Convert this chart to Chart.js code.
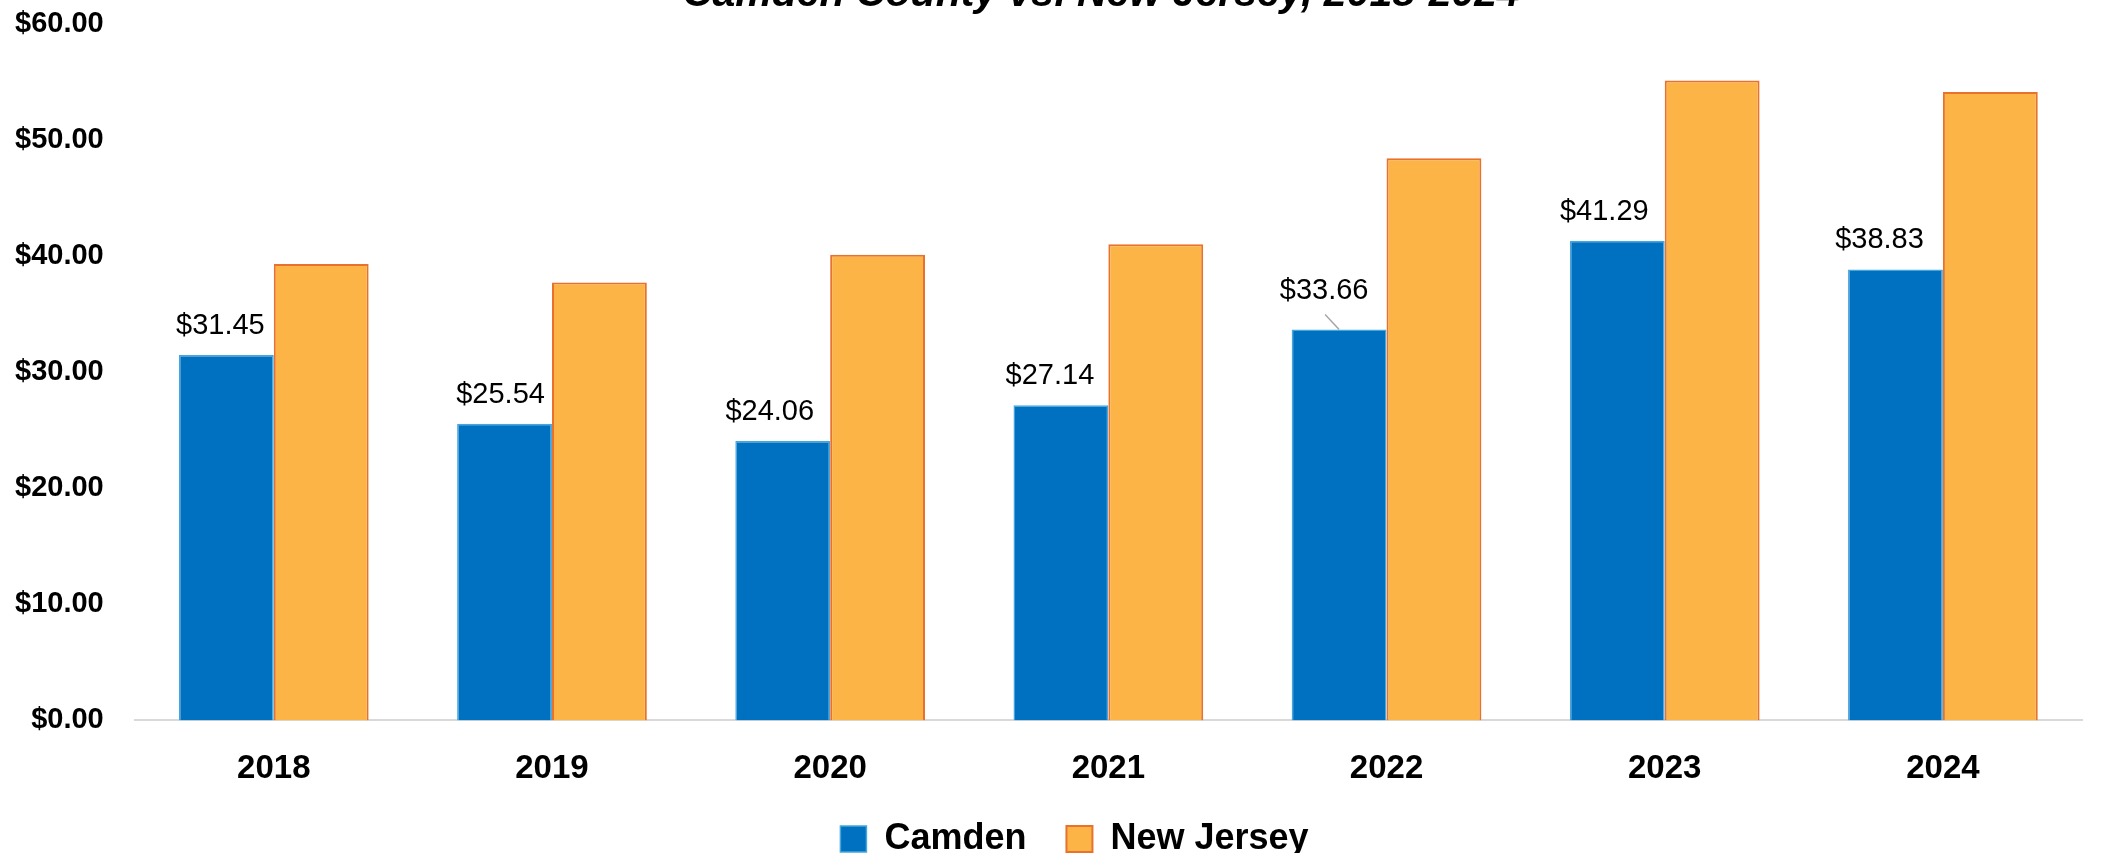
<!DOCTYPE html>
<html>
<head>
<meta charset="utf-8">
<script src="https://cdn.jsdelivr.net/npm/chart.js@4.4.1/dist/chart.umd.min.js"></script>
<style>
  html, body { margin: 0; padding: 0; background: #ffffff; }
  #wrap { position: relative; width: 2109px; height: 853px; overflow: hidden; }
</style>
</head>
<body>
<div id="wrap"><canvas id="c"></canvas></div>
<script>
const titleText = 'Camden County vs. New Jersey, 2018-2024';
const categories = ['2018', '2019', '2020', '2021', '2022', '2023', '2024'];
const seriesNames = ['Camden', 'New Jersey'];
const camdenValues = [31.45, 25.54, 24.06, 27.14, 33.66, 41.29, 38.83];
const newJerseyValues = [39.3, 37.7, 40.1, 41.0, 48.4, 55.1, 54.1];
const camdenLabels = ['$31.45', '$25.54', '$24.06', '$27.14', '$33.66', '$41.29', '$38.83'];
const yTickLabels = ['$0.00', '$10.00', '$20.00', '$30.00', '$40.00', '$50.00', '$60.00'];

const FONT = '"Liberation Sans", Arial, sans-serif';

const titlePlugin = {
  id: 'cutTitle',
  afterDraw(chart) {
    const ctx = chart.ctx;
    const a = chart.chartArea;
    ctx.save();
    ctx.font = 'italic bold 41px ' + FONT;
    ctx.fillStyle = '#000000';
    ctx.textAlign = 'center';
    ctx.textBaseline = 'alphabetic';
    ctx.fillText(titleText, (a.left + a.right) / 2 - 7, 6);
    ctx.restore();
  }
};

const labelPlugin = {
  id: 'barValueLabels',
  afterDatasetsDraw(chart, args, opts) {
    const ctx = chart.ctx;
    const meta = chart.getDatasetMeta(0);
    ctx.save();
    ctx.font = '29px ' + FONT;
    ctx.fillStyle = '#000000';
    ctx.textAlign = 'center';
    ctx.textBaseline = 'middle';
    meta.data.forEach((bar, i) => {
      const tx = bar.x + opts.dx[i];
      const ty = bar.y - opts.dy[i];
      ctx.fillText(camdenLabels[i], tx, ty);
      if (opts.leader[i]) {
        ctx.strokeStyle = '#a6a6a6';
        ctx.lineWidth = 1.5;
        ctx.beginPath();
        ctx.moveTo(tx + 1, ty + 23);
        ctx.lineTo(bar.x, bar.y);
        ctx.stroke();
      }
    });
    ctx.restore();
  }
};

const legendShift = {
  id: 'legendShift',
  afterLayout(chart) {
    const lg = chart.legend;
    if (lg) {
      lg.left += 26; lg.right += 26;
      lg.top -= 37; lg.bottom -= 37;
    }
  }
};

new Chart(document.getElementById('c'), {
  type: 'bar',
  data: {
    labels: categories,
    datasets: [
      {
        label: seriesNames[0],
        data: camdenValues,
        backgroundColor: '#0070C0',
        borderColor: '#45A6DC',
        borderWidth: 1.5
      },
      {
        label: seriesNames[1],
        data: newJerseyValues,
        backgroundColor: '#FDB446',
        borderColor: '#E8712D',
        borderWidth: 2
      }
    ]
  },
  options: {
    responsive: true,
    maintainAspectRatio: false,
    devicePixelRatio: 1,
    animation: false,
    layout: { padding: { left: 15, right: 27, top: 23.5, bottom: -51 } },
    datasets: { bar: { categoryPercentage: 0.682, barPercentage: 1.0 } },
    scales: {
      x: {
        grid: { display: false, drawTicks: false },
        border: { display: true, color: '#d9d9d9', width: 2 },
        ticks: {
          color: '#000000',
          font: { family: FONT, size: 33, weight: 'bold' },
          padding: 29,
          maxRotation: 0
        }
      },
      y: {
        min: 0,
        max: 60,
        grid: { display: false, drawTicks: false },
        border: { display: false },
        afterFit: (s) => { s.width -= 31; s.paddingTop = 0; s.paddingBottom = 0; },
        ticks: {
          stepSize: 10,
          color: '#000000',
          font: { family: FONT, size: 29, weight: 'bold' },
          padding: 31,
          callback: (v) => yTickLabels[Math.round(v / 10)]
        }
      }
    },
    plugins: {
      title: { display: false },
      tooltip: { enabled: false },
      legend: {
        display: true,
        position: 'bottom',
        labels: {
          color: '#000000',
          font: { family: FONT, size: 36, weight: 'bold' },
          boxWidth: 26,
          boxHeight: 26,
          padding: 40
        }
      },
      barValueLabels: {
        dx: [-6, -4, -13, -11, -15, -13, -16],
        dy: [29, 29, 29, 29, 38, 29, 29],
        leader: [false, false, false, false, true, false, false]
      }
    }
  },
  plugins: [titlePlugin, labelPlugin, legendShift]
});
</script>
</body>
</html>
